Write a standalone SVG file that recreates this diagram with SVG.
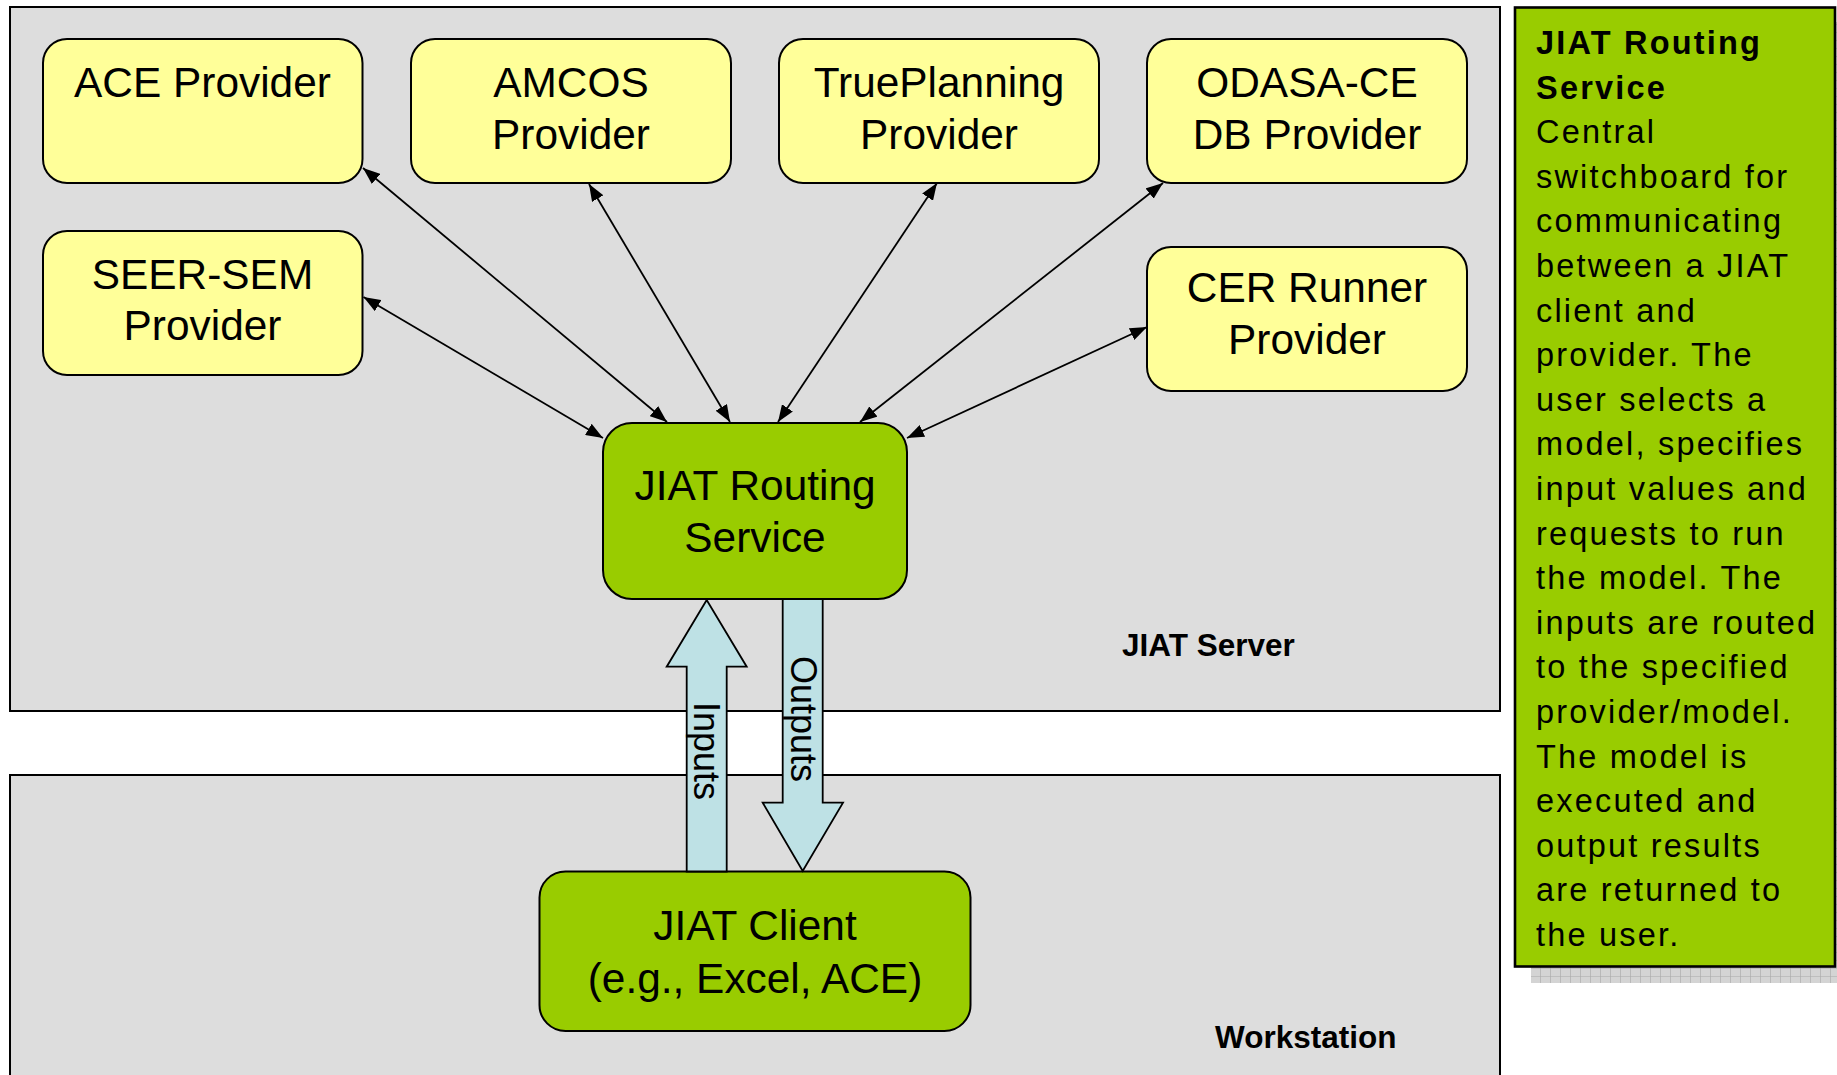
<svg xmlns="http://www.w3.org/2000/svg" width="1837" height="1075" viewBox="0 0 1837 1075">
<defs>
<style>
.zone{fill:#DDDDDD;stroke:#000;stroke-width:2}
.prov{fill:#FFFF99;stroke:#000;stroke-width:2}
.gnode{fill:#99CC00;stroke:#000;stroke-width:2}
.lbl{font-family:"Liberation Sans",Arial,sans-serif;font-size:42.4px;fill:#000;text-anchor:middle}
.zlbl{font-family:"Liberation Sans",Arial,sans-serif;font-size:31.5px;font-weight:bold;fill:#000}
.blk{fill:#BEE1E5;stroke:#000;stroke-width:1.8}
.blbl{font-family:"Liberation Sans",Arial,sans-serif;font-size:36px;fill:#000;text-anchor:middle}
.conn{stroke:#000;stroke-width:1.8;fill:none;marker-start:url(#ah);marker-end:url(#ah)}
.note{font-family:"Liberation Sans",Arial,sans-serif;font-size:32.5px;letter-spacing:2.2px;fill:#000}
</style>
<marker id="ah" viewBox="0 0 17 13" refX="17" refY="6.5" markerWidth="17" markerHeight="13" markerUnits="userSpaceOnUse" orient="auto-start-reverse">
<path d="M0,0 L17,6.5 L0,13 z" fill="#000"/>
</marker>
<pattern id="hatch" width="10" height="8" patternUnits="userSpaceOnUse">
<rect width="10" height="8" fill="#D4D4D4"/>
<path d="M0,0 V8 M0,0 H10" stroke="#A8A8A8" stroke-width="1.2"/>
</pattern>
</defs>

<g id="server-zone">
<rect class="zone" x="10" y="7" width="1490" height="704"/>
<text class="zlbl" x="1122" y="656">JIAT Server</text>
</g>
<g id="workstation-zone">
<rect class="zone" x="10" y="775" width="1490" height="310"/>
<text class="zlbl" x="1215" y="1048">Workstation</text>
</g>

<g id="ace-provider">
<rect class="prov" x="43" y="39" width="319.5" height="144" rx="24" ry="24"/>
<text class="lbl" x="202.5" y="97">ACE Provider</text>
</g>
<g id="amcos-provider">
<rect class="prov" x="411" y="39" width="320" height="144" rx="24" ry="24"/>
<text class="lbl" x="571" y="97">AMCOS</text>
<text class="lbl" x="571" y="148.5">Provider</text>
</g>
<g id="trueplanning-provider">
<rect class="prov" x="779" y="39" width="320" height="144" rx="24" ry="24"/>
<text class="lbl" x="939" y="97">TruePlanning</text>
<text class="lbl" x="939" y="148.5">Provider</text>
</g>
<g id="odasa-provider">
<rect class="prov" x="1147" y="39" width="320" height="144" rx="24" ry="24"/>
<text class="lbl" x="1307" y="97">ODASA-CE</text>
<text class="lbl" x="1307" y="148.5">DB Provider</text>
</g>
<g id="seer-provider">
<rect class="prov" x="43" y="231" width="319.5" height="144" rx="24" ry="24"/>
<text class="lbl" x="202.5" y="288.5">SEER-SEM</text>
<text class="lbl" x="202.5" y="340">Provider</text>
</g>
<g id="cer-provider">
<rect class="prov" x="1147" y="247" width="320" height="144" rx="24" ry="24"/>
<text class="lbl" x="1307" y="302">CER Runner</text>
<text class="lbl" x="1307" y="354">Provider</text>
</g>

<g id="connectors">
<line class="conn" x1="363" y1="168" x2="667" y2="422"/>
<line class="conn" x1="589" y1="184" x2="730" y2="422"/>
<line class="conn" x1="937" y1="183" x2="778" y2="422"/>
<line class="conn" x1="1163" y1="183" x2="860" y2="422"/>
<line class="conn" x1="1147" y1="327" x2="907" y2="438"/>
<line class="conn" x1="363.5" y1="297" x2="603" y2="438"/>
</g>

<g id="routing-service">
<rect class="gnode" x="603" y="423" width="304" height="176" rx="29" ry="29"/>
<text class="lbl" x="755" y="500">JIAT Routing</text>
<text class="lbl" x="755" y="551.5">Service</text>
</g>

<g id="jiat-client">
<rect class="gnode" x="539.5" y="871.5" width="431" height="159.5" rx="26" ry="26"/>
<text class="lbl" x="755" y="940">JIAT Client</text>
<text class="lbl" x="755" y="993">(e.g., Excel, ACE)</text>
</g>

<g id="inputs-arrow">
<polygon class="blk" points="706.7,600 666.7,666.7 686.7,666.7 686.7,871.5 726.7,871.5 726.7,666.7 746.7,666.7"/>
<text class="blbl" transform="translate(694,751) rotate(90)">Inputs</text>
</g>
<g id="outputs-arrow">
<polygon class="blk" points="782.7,599 782.7,802.7 762.7,802.7 802.7,871 843,802.7 822.7,802.7 822.7,599"/>
<text class="blbl" transform="translate(791,719) rotate(90)">Outputs</text>
</g>

<g id="description-note">
<rect x="1531" y="22" width="306" height="961" fill="url(#hatch)"/>
<rect x="1515" y="7.5" width="320" height="959" fill="#99CC00" stroke="#000" stroke-width="2.6"/>
<text class="note" x="1536" y="54" font-weight="bold">JIAT Routing</text>
<text class="note" x="1536" y="98.6" font-weight="bold">Service</text>
<text class="note" x="1536" y="143.2">Central</text>
<text class="note" x="1536" y="187.8">switchboard for</text>
<text class="note" x="1536" y="232.4">communicating</text>
<text class="note" x="1536" y="277">between a JIAT</text>
<text class="note" x="1536" y="321.6">client and</text>
<text class="note" x="1536" y="366.2">provider. The</text>
<text class="note" x="1536" y="410.8">user selects a</text>
<text class="note" x="1536" y="455.4">model, specifies</text>
<text class="note" x="1536" y="500">input values and</text>
<text class="note" x="1536" y="544.6">requests to run</text>
<text class="note" x="1536" y="589.2">the model. The</text>
<text class="note" x="1536" y="633.8">inputs are routed</text>
<text class="note" x="1536" y="678.4">to the specified</text>
<text class="note" x="1536" y="723">provider/model.</text>
<text class="note" x="1536" y="767.6">The model is</text>
<text class="note" x="1536" y="812.2">executed and</text>
<text class="note" x="1536" y="856.8">output results</text>
<text class="note" x="1536" y="901.4">are returned to</text>
<text class="note" x="1536" y="946">the user.</text>
</g>
</svg>
